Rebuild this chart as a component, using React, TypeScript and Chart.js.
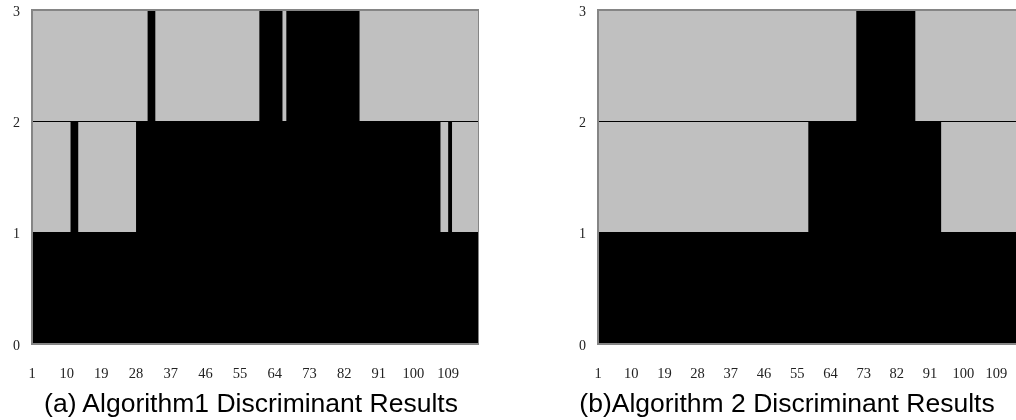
import React, { useEffect, useRef } from 'react';
import { Chart, registerables } from 'chart.js';

Chart.register(...registerables);

// Sample index categories (1..116)
const categories: string[] = Array.from({ length: 116 }, (_, i) => String(i + 1));
const tickLabels = ['1', '10', '19', '28', '37', '46', '55', '64', '73', '82', '91', '100', '109'];
const yTicks = [0, 1, 2, 3];

const algorithm1Values = [
  1, 1, 1, 1, 1, 1, 1, 1, 1, 1,
  2, 2, 1, 1, 1, 1, 1, 1, 1, 1,
  1, 1, 1, 1, 1, 1, 1, 2, 2, 2,
  3, 3, 2, 2, 2, 2, 2, 2, 2, 2,
  2, 2, 2, 2, 2, 2, 2, 2, 2, 2,
  2, 2, 2, 2, 2, 2, 2, 2, 2, 3,
  3, 3, 3, 3, 3, 2, 3, 3, 3, 3,
  3, 3, 3, 3, 3, 3, 3, 3, 3, 3,
  3, 3, 3, 3, 3, 2, 2, 2, 2, 2,
  2, 2, 2, 2, 2, 2, 2, 2, 2, 2,
  2, 2, 2, 2, 2, 2, 1, 1, 2, 1,
  1, 1, 1, 1, 1, 1,
];

const algorithm2Values = [
  1, 1, 1, 1, 1, 1, 1, 1, 1, 1,
  1, 1, 1, 1, 1, 1, 1, 1, 1, 1,
  1, 1, 1, 1, 1, 1, 1, 1, 1, 1,
  1, 1, 1, 1, 1, 1, 1, 1, 1, 1,
  1, 1, 1, 1, 1, 1, 1, 1, 1, 1,
  1, 1, 1, 1, 1, 1, 1, 2, 2, 2,
  2, 2, 2, 2, 2, 2, 2, 2, 2, 2,
  3, 3, 3, 3, 3, 3, 3, 3, 3, 3,
  3, 3, 3, 3, 3, 3, 2, 2, 2, 2,
  2, 2, 2, 1, 1, 1, 1, 1, 1, 1,
  1, 1, 1, 1, 1, 1, 1, 1, 1, 1,
  1, 1, 1, 1, 1, 1,
];

const captions = ['(a) Algorithm1 Discriminant Results', '(b)Algorithm 2 Discriminant Results'];

const PLOT_BG = '#c0c0c0';
const FRAME = '#858585';

const framePlugin = {
  id: 'panelFrame',
  beforeDraw(chart: any) {
    const { ctx, chartArea } = chart;
    ctx.save();
    ctx.fillStyle = PLOT_BG;
    ctx.fillRect(chartArea.left, chartArea.top, chartArea.right - chartArea.left, chartArea.bottom - chartArea.top);
    ctx.restore();
  },
  afterDraw(chart: any) {
    const { ctx, chartArea } = chart;
    ctx.save();
    ctx.strokeStyle = FRAME;
    ctx.lineWidth = 2;
    ctx.strokeRect(chartArea.left, chartArea.top, chartArea.right - chartArea.left, chartArea.bottom - chartArea.top);
    ctx.restore();
  },
};

function StepPanel({ values, left, width }: { values: number[]; left: number; width: number }) {
  const ref = useRef<HTMLCanvasElement | null>(null);
  useEffect(() => {
    if (!ref.current) return;
    const labels = [...categories, ''];
    const data = [...values, values[values.length - 1]];
    const chart = new Chart(ref.current, {
      type: 'line',
      data: {
        labels,
        datasets: [
          {
            data,
            stepped: 'before',
            fill: 'origin',
            backgroundColor: '#000000',
            borderColor: 'rgba(0,0,0,0)',
            borderWidth: 0,
            pointRadius: 0,
            pointHoverRadius: 0,
            tension: 0,
          },
        ],
      },
      options: {
        responsive: false,
        animation: false,
        events: [],
        layout: { padding: { top: 10, left: 0, right: 0, bottom: 0 } },
        plugins: { legend: { display: false }, tooltip: { enabled: false } },
        scales: {
          x: {
            type: 'category',
            offset: false,
            grid: { display: false, drawTicks: false },
            border: { display: false },
            ticks: {
              autoSkip: false,
              maxRotation: 0,
              minRotation: 0,
              padding: 21,
              color: '#222',
              font: { family: "'Liberation Serif', 'DejaVu Serif', serif", size: 14.5 },
              callback: (_v: any, idx: number) => {
                const l = labels[idx];
                return tickLabels.includes(l) ? l : '';
              },
            },
            afterFit: (s: any) => {
              s.height = 46;
              s.paddingLeft = 0;
              s.paddingRight = 0;
            },
          },
          y: {
            min: yTicks[0],
            max: yTicks[yTicks.length - 1],
            grid: {
              drawTicks: false,
              lineWidth: 1,
              color: (c: any) => (c.tick && (c.tick.value === 1 || c.tick.value === 2) ? '#000' : 'rgba(0,0,0,0)'),
            },
            border: { display: false },
            ticks: {
              stepSize: 1,
              padding: 12,
              labelOffset: 2,
              color: '#222',
              font: { family: "'Liberation Serif', 'DejaVu Serif', serif", size: 14 },
            },
            afterFit: (s: any) => {
              s.width = 32;
              s.paddingTop = 0;
              s.paddingBottom = 0;
            },
          },
        },
      },
      plugins: [framePlugin],
    } as any);
    return () => chart.destroy();
  }, [values]);
  return (
    <canvas
      ref={ref}
      width={width}
      height={390}
      style={{ position: 'absolute', left, top: 0, width, height: 390 }}
    />
  );
}

export default function App() {
  const captionStyle: React.CSSProperties = {
    position: 'absolute',
    top: 388,
    height: 30,
    lineHeight: '30px',
    fontFamily: "'Liberation Sans', Arial, sans-serif",
    fontSize: 26.5,
    color: '#000',
    textAlign: 'center',
    whiteSpace: 'nowrap',
  };
  return (
    <div
      style={{
        position: 'fixed',
        left: 0,
        top: 0,
        width: 1016,
        height: 420,
        overflow: 'hidden',
        background: '#fff',
      }}
    >
      <StepPanel values={algorithm1Values} left={0} width={479} />
      <StepPanel values={algorithm2Values} left={566} width={460} />
      <div style={{ ...captionStyle, left: 0, width: 502 }}>{captions[0]}</div>
      <div style={{ ...captionStyle, left: 574, width: 426 }}>{captions[1]}</div>
    </div>
  );
}
